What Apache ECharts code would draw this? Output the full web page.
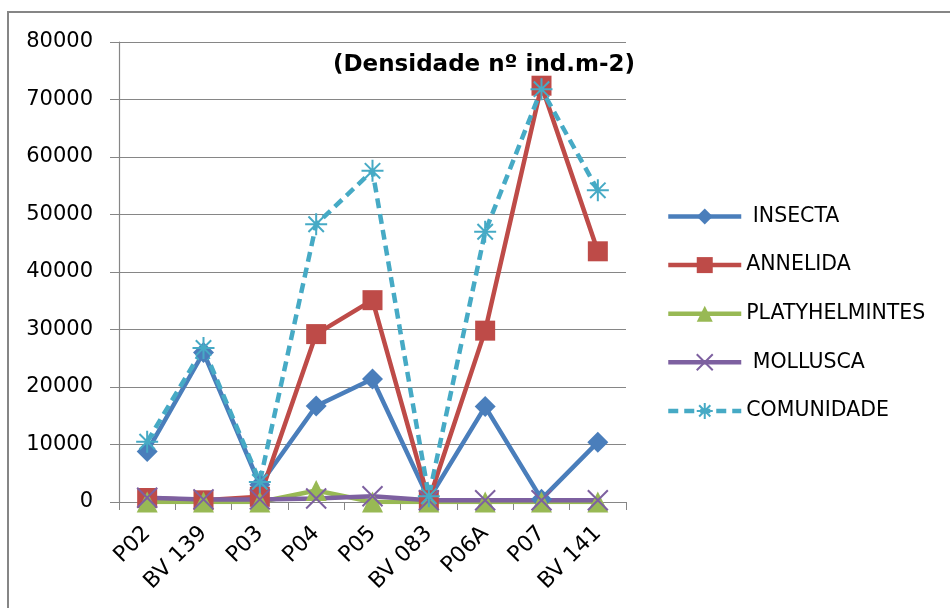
<!DOCTYPE html>
<html>
<head>
<meta charset="utf-8">
<script src="https://cdn.jsdelivr.net/npm/echarts@6/dist/echarts.min.js"></script>
<style>
  html, body { margin: 0; padding: 0; background: #ffffff; }
  #chart { width: 950px; height: 608px; }
</style>
</head>
<body>
<div id="chart"></div>
<script>
// Sampling stations along the x axis
const stations = ['P02', 'BV 139', 'P03', 'P04', 'P05', 'BV 083', 'P06A', 'P07', 'BV 141'];

// Density per group (ind.m-2)
const insecta        = [8800, 26000, 3000, 16700, 21400, 500, 16600, 500, 10400];
const annelida       = [700, 300, 900, 29200, 35100, 300, 29800, 72400, 43600];
const platyhelmintes = [0, 0, 0, 2000, 0, 0, 0, 0, 0];
const mollusca       = [750, 450, 450, 600, 1000, 300, 300, 300, 300];
const comunidade     = [10500, 26800, 3500, 48300, 57600, 1000, 47000, 71800, 54200];

// Y axis ticks
const yTicks = [0, 10000, 20000, 30000, 40000, 50000, 60000, 70000, 80000];

const seriesNames = [' INSECTA', 'ANNELIDA', 'PLATYHELMINTES', ' MOLLUSCA', 'COMUNIDADE'];

const FONT = '"DejaVu Sans", "Liberation Sans", sans-serif';
const GRID_GRAY = '#868686';

const xMark = 'path://M0,0L10,10M10,0L0,10';
const starMark = 'path://M5,0L5,10M0,5L10,5M1.5,1.5L8.5,8.5M8.5,1.5L1.5,8.5';

function lineSeries(name, data, color, symbol, size, extra) {
  return Object.assign({
    name: name,
    type: 'line',
    data: data,
    symbol: symbol,
    symbolSize: size,
    showAllSymbol: true,
    lineStyle: { color: color, width: 4.5 },
    itemStyle: { color: color },
    emphasis: { disabled: true },
    animation: false
  }, extra || {});
}

const chart = echarts.init(document.getElementById('chart'), null, { renderer: 'canvas' });

chart.setOption({
  backgroundColor: '#ffffff',
  textStyle: { fontFamily: FONT },
  graphic: [{
    type: 'rect',
    shape: { x: 8, y: 12, width: 1000, height: 700 },
    style: { fill: 'none', stroke: GRID_GRAY, lineWidth: 2 },
    silent: true,
    z: -1
  }],
  title: {
    text: '(Densidade nº ind.m-2)',
    left: 328,
    top: 49,
    textStyle: { fontFamily: FONT, fontWeight: 'bold', fontSize: 23, color: '#000000' }
  },
  legend: {
    orient: 'vertical',
    left: 661,
    top: 201,
    itemWidth: 73,
    itemHeight: 20,
    itemGap: 27.6,
    data: seriesNames,
    lineStyle: { width: 4.5 },
    textStyle: { fontFamily: FONT, fontSize: 20.5, color: '#000000' }
  },
  grid: { left: 119, right: 324, top: 42, bottom: 106, containLabel: false },
  xAxis: {
    type: 'category',
    data: stations,
    boundaryGap: true,
    axisLine: { lineStyle: { color: GRID_GRAY, width: 1.2 } },
    axisTick: { show: true, alignWithLabel: false, length: 8, lineStyle: { color: GRID_GRAY } },
    axisLabel: {
      rotate: 45,
      margin: 28,
      interval: 0,
      fontFamily: FONT,
      fontSize: 22,
      color: '#000000'
    }
  },
  yAxis: {
    type: 'value',
    min: yTicks[0],
    max: yTicks[yTicks.length - 1],
    interval: yTicks[1] - yTicks[0],
    axisLine: { show: true, lineStyle: { color: GRID_GRAY, width: 1.2 } },
    axisTick: { show: true, length: 9, lineStyle: { color: GRID_GRAY } },
    splitLine: { show: true, lineStyle: { color: GRID_GRAY, width: 1 } },
    axisLabel: {
      margin: 26,
      fontFamily: FONT,
      fontSize: 21,
      color: '#000000',
      formatter: function (v) { return String(v); }
    }
  },
  series: [
    lineSeries(seriesNames[0], insecta, '#4A7EBB', 'diamond', 21),
    lineSeries(seriesNames[1], annelida, '#BE4B48', 'rect', 20),
    lineSeries(seriesNames[2], platyhelmintes, '#98B954', 'triangle', 21),
    lineSeries(seriesNames[3], mollusca, '#7D60A0', xMark, 20, {
      itemStyle: { color: '#7D60A0', borderColor: '#7D60A0', borderWidth: 2 }
    }),
    lineSeries(seriesNames[4], comunidade, '#46AAC5', starMark, 22, {
      lineStyle: { color: '#46AAC5', width: 4.5, type: [10, 6] },
      itemStyle: { color: '#46AAC5', borderColor: '#46AAC5', borderWidth: 2 }
    })
  ]
});
</script>
</body>
</html>
